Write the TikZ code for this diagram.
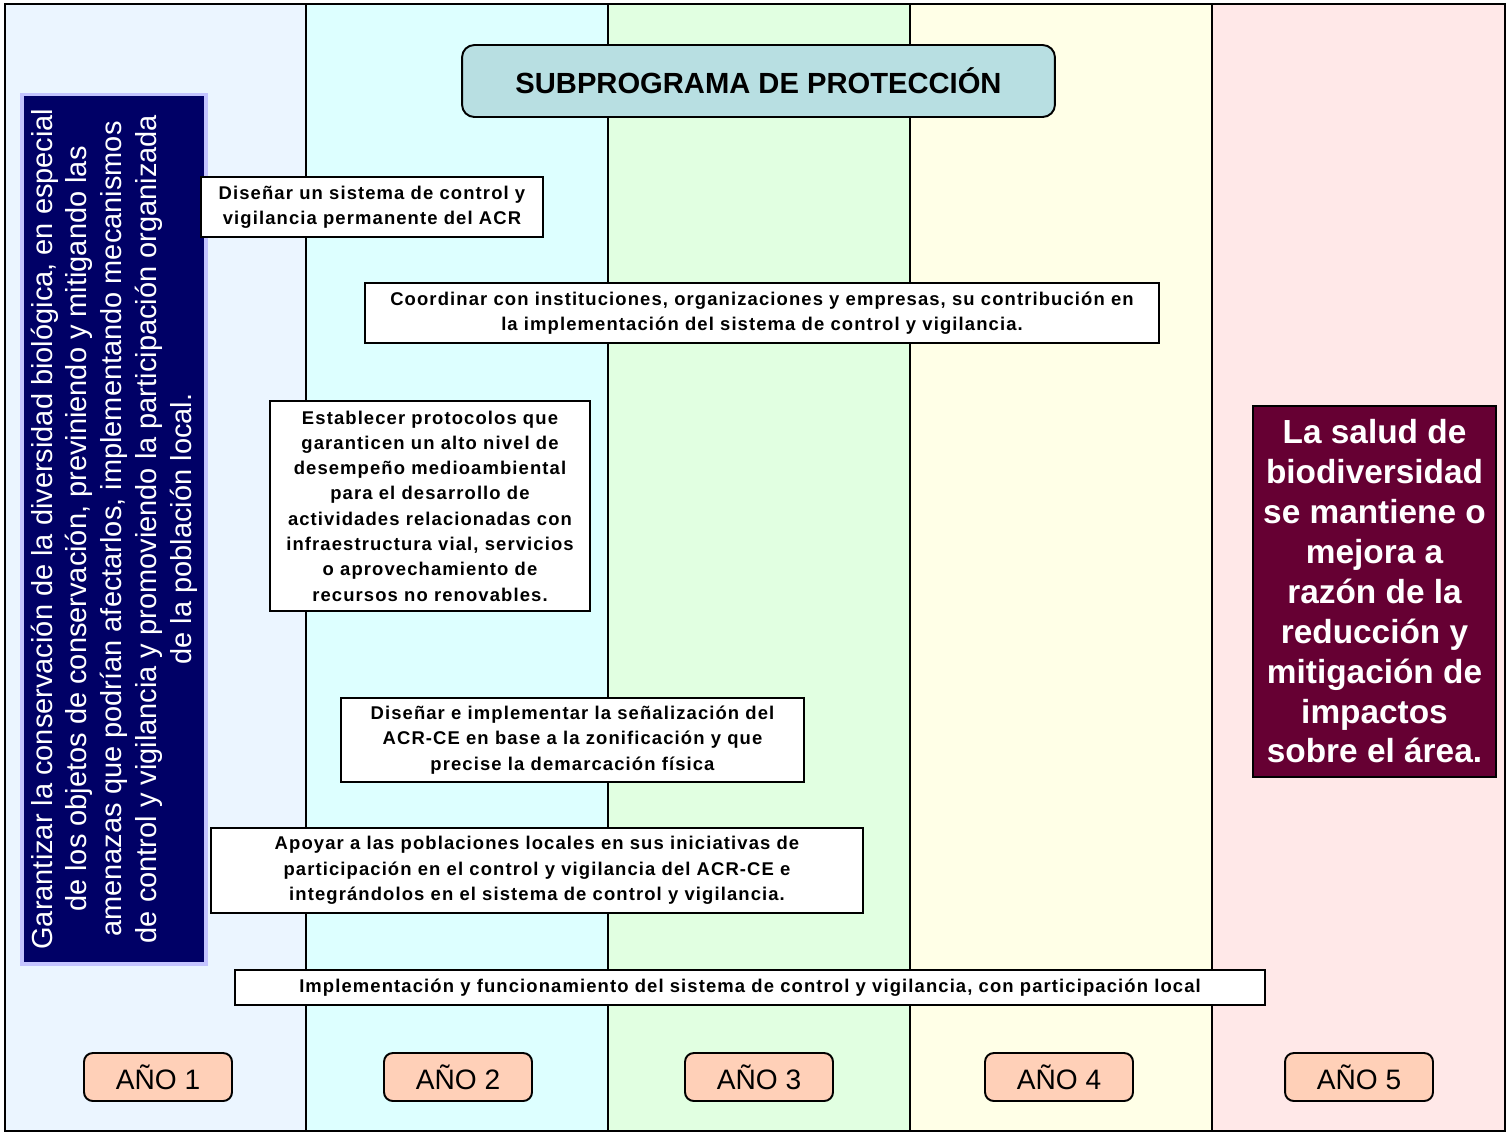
\documentclass[tikz,border=0pt]{standalone}
\usepackage{fontspec}
\setmainfont{Liberation Sans}
\newfontfamily\spacedfont[LetterSpace=6]{Liberation Sans}
\begin{document}
\begin{tikzpicture}[x=0.02cm,y=-0.02cm,
  actbox/.style={draw=black, line width=1.1pt, fill=white, inner sep=0pt, align=center,
    font=\spacedfont\bfseries\fontsize{10.5}{14.4}\selectfont},
  yearbox/.style={draw=black, line width=1.1pt, fill=yearfill, rounded corners=5pt,
    minimum width=2.96cm, minimum height=0.96cm, inner sep=0pt,
    font=\fontsize{16}{18}\selectfont},
  divider/.style={line width=1.1pt, draw=black}
]
\definecolor{colA}{HTML}{EBF5FF}
\definecolor{colB}{HTML}{DDFFFF}
\definecolor{colC}{HTML}{E1FFE1}
\definecolor{colD}{HTML}{FFFFE7}
\definecolor{colE}{HTML}{FFE8E8}
\definecolor{titlefill}{HTML}{B8DFE2}
\definecolor{yearfill}{HTML}{FFD0B8}
\definecolor{goalfill}{HTML}{000066}
\definecolor{goalrim}{HTML}{C4C4FF}
\definecolor{resultfill}{HTML}{660033}

\useasboundingbox (0,0) rectangle (1507,1134);

% year columns
\fill[colA] (5,4) rectangle (306,1131);
\fill[colB] (306,4) rectangle (608,1131);
\fill[colC] (608,4) rectangle (910,1131);
\fill[colD] (910,4) rectangle (1212,1131);
\fill[colE] (1212,4) rectangle (1505,1131);
\draw[divider] (5,4) rectangle (1505,1131);
\foreach \xx in {306,608,910,1212} \draw[divider] (\xx,4) -- (\xx,1131);

% title
\node[draw=black, line width=1.1pt, fill=titlefill, rounded corners=7pt,
  minimum width=11.86cm, minimum height=1.44cm, inner sep=0pt,
  font=\bfseries\fontsize{16.6}{18}\selectfont] (title) at (758.5,81) {SUBPROGRAMA DE PROTECCIÓN};

% general objective
\node[draw=goalrim, line width=1.8pt, fill=goalfill, minimum width=3.68cm, minimum height=17.4cm,
  inner sep=0pt] (goal) at (114,529) {};
\node[rotate=90, text=white, align=center, inner sep=0pt,
  font=\fontsize{16.5}{19.8}\selectfont] (goaltext) at (goal.center)
  {Garantizar la conservación de la diversidad biológica, en especial\\
   de los objetos de conservación, previniendo y mitigando las\\
   amenazas que podrían afectarlos, implementando mecanismos\\
   de control y vigilancia y promoviendo la participación organizada\\
   de la población local.};

% activities
\node[actbox, minimum width=6.84cm, minimum height=1.2cm] (act1) at (372,207)
  {Diseñar un sistema de control y\\ vigilancia permanente del ACR};
\node[actbox, minimum width=15.88cm, minimum height=1.2cm] (act2) at (762,313)
  {Coordinar con instituciones, organizaciones y empresas, su contribución en\\
   la implementación del sistema de control y vigilancia.};
\node[actbox, minimum width=6.4cm, minimum height=4.2cm] (act3) at (430,506)
  {Establecer protocolos que\\ garanticen un alto nivel de\\ desempeño medioambiental\\
   para el desarrollo de\\ actividades relacionadas con\\ infraestructura vial, servicios\\
   o aprovechamiento de\\ recursos no renovables.};
\node[actbox, minimum width=9.26cm, minimum height=1.68cm] (act4) at (572.5,740)
  {Diseñar e implementar la señalización del\\ ACR-CE en base a la zonificación y que\\
   precise la demarcación física};
\node[actbox, minimum width=13.04cm, minimum height=1.7cm] (act5) at (537,870.5)
  {Apoyar a las poblaciones locales en sus iniciativas de\\
   participación en el control y vigilancia del ACR-CE e\\
   integrándolos en el sistema de control y vigilancia.};
\node[actbox, minimum width=20.6cm, minimum height=0.7cm] (act6) at (750,987.5)
  {Implementación y funcionamiento del sistema de control y vigilancia, con participación local};

% expected result
\node[draw=black, line width=1.1pt, fill=resultfill, text=white, minimum width=4.86cm,
  minimum height=7.42cm, inner sep=0pt, align=center,
  font=\bfseries\fontsize{19}{22.7}\selectfont] (result) at (1374.5,591.5)
  {La salud de\\ biodiversidad\\ se mantiene o\\ mejora a\\ razón de la\\ reducción y\\
   mitigación de\\ impactos\\ sobre el área.};

% years
\node[yearbox] (y1) at (158,1077) {AÑO 1};
\node[yearbox] (y2) at (458,1077) {AÑO 2};
\node[yearbox] (y3) at (759,1077) {AÑO 3};
\node[yearbox] (y4) at (1059,1077) {AÑO 4};
\node[yearbox] (y5) at (1359,1077) {AÑO 5};
\end{tikzpicture}
\end{document}
